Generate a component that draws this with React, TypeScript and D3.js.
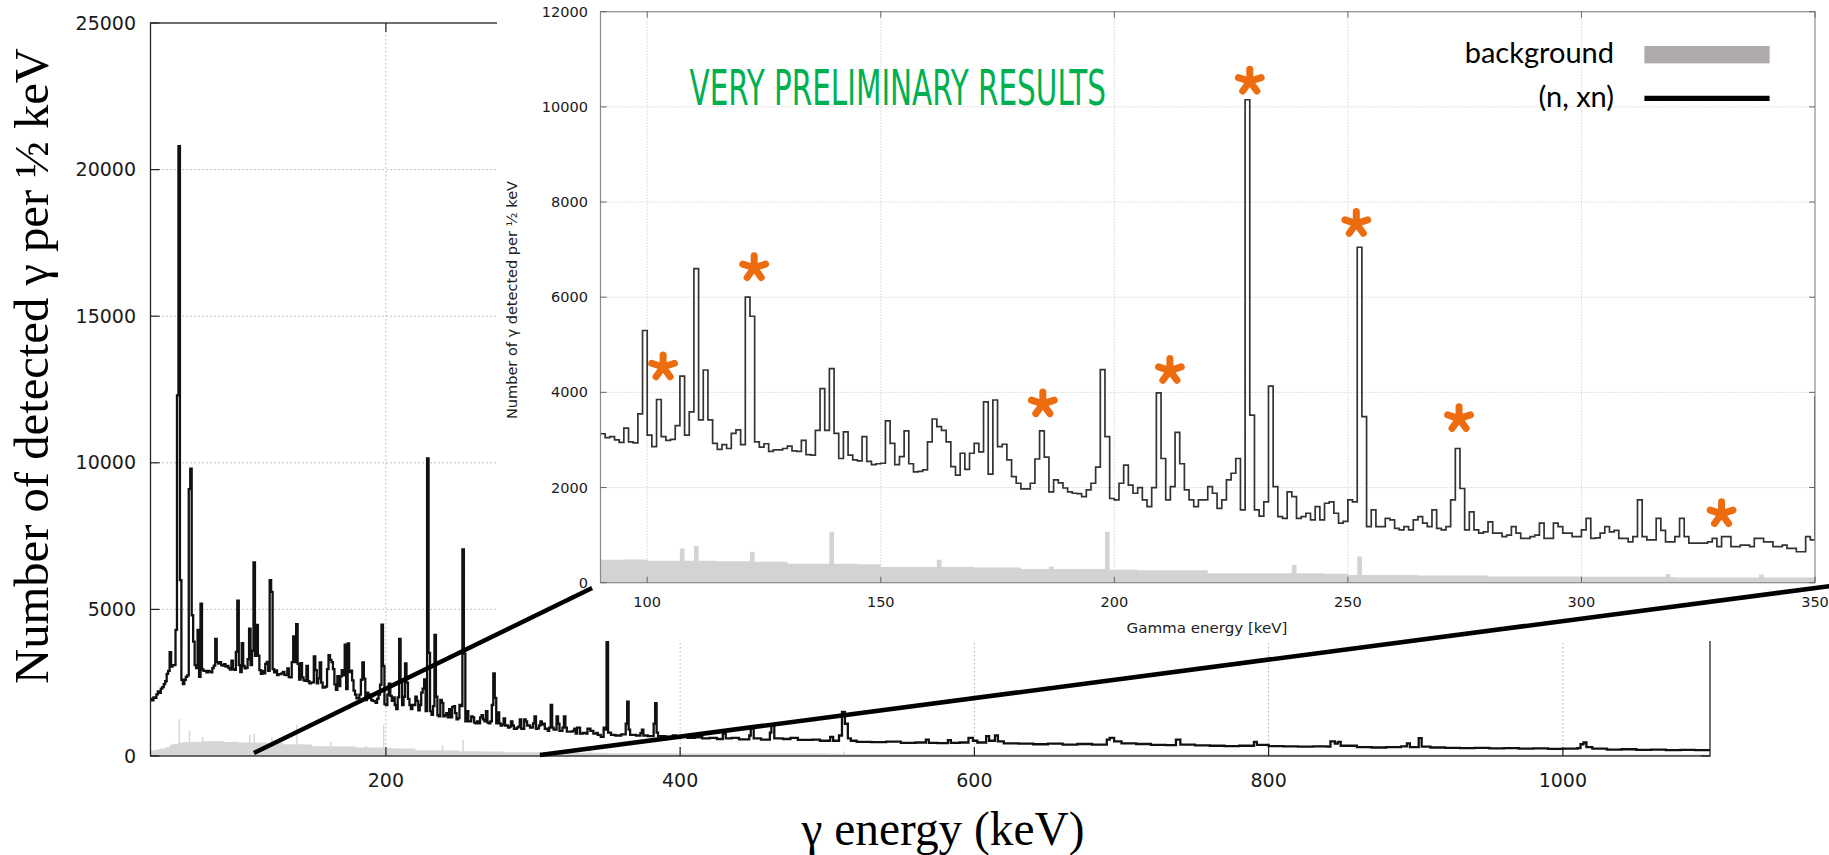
import React from 'react';
import * as d3 from 'd3';

// ---------- DATA ----------
// (n, xn) spectrum, counts per bin, 1 keV bins starting at LOW_START
const LOW_START = 40;
const LOW_COUNTS = [
  1950, 1900, 2000, 1980, 2100, 2200, 2150, 2300, 2350, 2450,
  2550, 2800, 2900, 3540, 3050, 3100, 3100, 4300, 12300, 20800,
  6000, 2600, 2450, 2600, 2700, 2750, 9100, 9800, 4800, 3900,
  3100, 3000, 4300, 2700, 5200, 2950, 2900, 2900, 2850, 2900,
  2880, 2850, 3000, 3080, 3990, 3200, 3150, 3200, 3100, 3080,
];

// 90 .. 350 keV, 1 keV bins (the zoomed inset region)
const INSET_START = 90;
const INSET_COUNTS = [
  3130, 3050, 3070, 3000, 2950, 3250, 2960, 2940, 3550, 5300, // 90-99
  3100, 2860, 3850, 3070, 2990, 3010, 3300, 4340, 3100, 3590, // 100-109
  6600, 3420, 4470, 3420, 2930, 2800, 2900, 2820, 3140, 3210, // 110-119
  2900, 6000, 5600, 2960, 2850, 2920, 2760, 2790, 2790, 2820, // 120-129
  2870, 2770, 2760, 2990, 2690, 2680, 3200, 4080, 3200, 4500, // 130-139
  3140, 2610, 3170, 2680, 2580, 2560, 3070, 2550, 2480, 2500, // 140-149
  2510, 3400, 2930, 2480, 2650, 3190, 2500, 2330, 2340, 2370, // 150-159
  2960, 3440, 3280, 3200, 2960, 2440, 2260, 2720, 2380, 2720, // 160-169
  2930, 2750, 3800, 2280, 3840, 2860, 2910, 2580, 2230, 2090, // 170-179
  1970, 1970, 2090, 2600, 3190, 2640, 1910, 2160, 2100, 1990, // 180-189
  1910, 1880, 1870, 1810, 1950, 2090, 2430, 4480, 3070, 1770, // 190-199
  1740, 2090, 2470, 2050, 1880, 2000, 1740, 1600, 2000, 3990, // 200-209
  2610, 1740, 2020, 3160, 2500, 1950, 1740, 1600, 1740, 1740, // 210-219
  2020, 1880, 1560, 1740, 2160, 2300, 2610, 1530, 10150, 3520, // 220-229
  1530, 1400, 1700, 4130, 2020, 1390, 1350, 1910, 1810, 1350, // 230-239
  1390, 1460, 1320, 1600, 1320, 1670, 1700, 1460, 1250, 1290, // 240-249
  1740, 1700, 7050, 3490, 1180, 1530, 1180, 1180, 1350, 1320, // 250-259
  1140, 1110, 1180, 1110, 1320, 1390, 1250, 1180, 1530, 1140, // 260-269
  1110, 1180, 1740, 2820, 1980, 1110, 1490, 1110, 1040, 1070, // 270-279
  1280, 1040, 1040, 970, 1000, 1180, 1040, 930, 930, 970,     // 280-289
  1000, 1250, 930, 930, 1250, 1180, 1040, 1040, 970, 970,     // 290-299
  1110, 1350, 930, 940, 1040, 1180, 1070, 1100, 930, 930,     // 300-309
  860, 970, 1740, 970, 900, 900, 1350, 1100, 860, 860,        // 310-319
  970, 1350, 970, 830, 830, 830, 830, 860, 930, 760,          // 320-329
  970, 970, 760, 760, 790, 790, 760, 930, 930, 860,           // 330-339
  860, 760, 760, 790, 720, 720, 650, 650, 970, 900,           // 340-349
  3900,                                                        // 350
];

// above 351 keV: [bin start keV, counts] change points
const HIGH_STEPS: [number, number][] = [
  [351, 800], [353, 720], [356, 700], [360, 740], [363, 1100], [364, 1850], [365, 900], [366, 720],
  [370, 700], [373, 780], [374, 900], [375, 700], [378, 680], [382, 1100], [383, 1800], [384, 800],
  [385, 680], [390, 660], [395, 700], [397, 640], [400, 660], [405, 620], [410, 640], [415, 600],
  [420, 620], [425, 580], [429, 760], [431, 600], [435, 620], [440, 570], [447, 700], [448, 940],
  [450, 600], [455, 560], [461, 800], [462, 1050], [464, 600], [470, 580], [475, 620], [480, 550],
  [490, 560], [495, 520], [502, 650], [504, 520], [508, 700], [510, 1500], [512, 1100], [514, 600],
  [516, 520], [520, 480], [530, 470], [540, 490], [550, 450], [560, 460], [567, 560], [569, 450],
  [575, 440], [582, 540], [584, 450], [590, 460], [596, 620], [599, 520], [602, 460], [608, 680],
  [610, 520], [614, 700], [616, 500], [620, 430], [630, 420], [640, 400], [650, 420], [660, 390],
  [670, 410], [680, 390], [690, 560], [692, 620], [695, 500], [700, 430], [710, 410], [720, 380],
  [730, 370], [737, 560], [740, 390], [750, 360], [760, 350], [770, 340], [780, 350], [790, 480],
  [792, 380], [800, 340], [810, 330], [820, 320], [830, 330], [840, 320], [842, 500], [845, 420],
  [847, 480], [849, 350], [860, 300], [870, 290], [880, 300], [890, 330], [894, 430], [896, 300],
  [902, 610], [904, 320], [910, 290], [920, 280], [930, 270], [940, 280], [950, 260], [960, 270],
  [970, 250], [980, 260], [990, 240], [1000, 250], [1010, 270], [1012, 400], [1014, 460], [1016, 300],
  [1020, 250], [1030, 220], [1040, 230], [1050, 210], [1060, 220], [1070, 200], [1080, 210], [1090, 200],
  [1100, 200],
];

// background spectrum: [bin start keV, counts] change points
const BG_STEPS: [number, number][] = [
  [40, 200], [44, 230], [47, 260], [50, 300], [53, 380], [55, 420], [59, 1250], [60, 450], [62, 470],
  [66, 850], [67, 480], [70, 490], [75, 650], [76, 500], [80, 510], [85, 500], [90, 480], [95, 490],
  [100, 460], [107, 720], [108, 460], [110, 770], [111, 460], [115, 450], [122, 650], [123, 440],
  [130, 400], [139, 1070], [140, 400], [145, 390], [150, 330], [162, 480], [163, 330], [170, 320],
  [180, 290], [186, 340], [187, 290], [198, 1070], [199, 270], [205, 260], [220, 200], [238, 370],
  [239, 200], [245, 190], [250, 160], [252, 550], [253, 160], [265, 150], [280, 130], [300, 125],
  [318, 185], [319, 120], [320, 110], [338, 170], [339, 110], [350, 95], [400, 85], [500, 75],
  [511, 150], [512, 70], [600, 60], [800, 50], [1100, 40],
];

// marked peaks in the inset: [keV, counts] of the asterisk centres
const MARKERS: [number, number][] = [
  [103.4, 4575], [122.9, 6660], [184.7, 3800], [211.9, 4500],
  [229.0, 10580], [251.8, 7590], [273.8, 3490], [330.0, 1490],
];

// zoom connector lines: main chart point -> inset point
const LINKS = [
  { mainKeV: 110.3, mainCounts: 100, insetKeV: 88.2, insetCounts: -110 },
  { mainKeV: 304.7, mainCounts: 35, insetKeV: 353.3, insetCounts: -70 },
];

const MAIN_X_TICKS = [200, 400, 600, 800, 1000];
const MAIN_Y_TICKS = [0, 5000, 10000, 15000, 20000, 25000];
const INSET_X_TICKS = [100, 150, 200, 250, 300, 350];
const INSET_Y_TICKS = [0, 2000, 4000, 6000, 8000, 10000, 12000];

const LEGEND = [
  { label: 'background', kind: 'area' },
  { label: '(n, xn)', kind: 'line' },
];

const TITLE_TEXT = 'VERY PRELIMINARY RESULTS';

// ---------- STYLE ----------
const ORANGE = '#EE6C10';
const GREEN = '#00B050';
const SANS = "'DejaVu Sans', sans-serif";
const SERIF = "'Liberation Serif', 'Times New Roman', serif";

function asteriskPath(r: number) {
  let p = '';
  for (let i = 0; i < 5; i++) {
    const a = ((-90 + i * 72) * Math.PI) / 180;
    p += `M0,0L${(r * Math.cos(a)).toFixed(2)},${(r * Math.sin(a)).toFixed(2)}`;
  }
  return p;
}

export default function App() {
  const W = 1829;
  const H = 855;

  // main chart scales
  const mx = d3.scaleLinear().domain([40, 1100]).range([150.5, 1710]);
  const my = d3.scaleLinear().domain([0, 25000]).range([756, 23]);
  // inset scales
  const ix = d3.scaleLinear().domain([90, 350]).range([600.5, 1815]);
  const iy = d3.scaleLinear().domain([0, 12000]).range([582.7, 11.7]);

  const panel = { x: 497, y: 0, w: W - 497, h: 641 };

  const lowPts: [number, number][] = LOW_COUNTS.map((v, i) => [LOW_START + i, v]);
  const insetPts: [number, number][] = INSET_COUNTS.map((v, i) => [INSET_START + i, v]);
  const mainPts: [number, number][] = [...lowPts, ...insetPts, ...HIGH_STEPS];
  const insetLinePts: [number, number][] = [...insetPts, [INSET_START + INSET_COUNTS.length, INSET_COUNTS[INSET_COUNTS.length - 1]]];

  const mainLine = d3.line<[number, number]>().x(d => mx(d[0])).y(d => my(d[1])).curve(d3.curveStepAfter);
  const mainArea = d3.area<[number, number]>().x(d => mx(d[0])).y0(my(0)).y1(d => my(d[1])).curve(d3.curveStepAfter);
  const insetLine = d3.line<[number, number]>().x(d => ix(d[0])).y(d => iy(d[1])).curve(d3.curveStepAfter);
  const insetArea = d3.area<[number, number]>().x(d => ix(d[0])).y0(iy(0)).y1(d => iy(d[1])).curve(d3.curveStepAfter);

  const [mx0, mx1] = mx.range();
  const [myB, myT] = my.range();
  const [ix0, ix1] = ix.range();
  const [iyB, iyT] = iy.range();

  const legendX0 = 1644.4, legendX1 = 1769.6;
  const legendTextX = 1614;
  const legendRows = [54.7, 98.3];

  const astR = 12;

  return (
    <svg width={W} height={H} style={{ position: 'absolute', left: 0, top: 0, background: '#fff' }}>
      <defs>
        <clipPath id="mainClip">
          <rect x={mx0} y={myT} width={mx1 - mx0} height={myB - myT} />
        </clipPath>
        <clipPath id="insetClip">
          <rect x={ix0} y={iyT} width={ix1 - ix0} height={iyB - iyT} />
        </clipPath>
      </defs>

      {/* ===== MAIN CHART ===== */}
      <g>
        {MAIN_Y_TICKS.filter(t => t > 0 && t < 25000).map(t => (
          <line key={'mgy' + t} x1={mx0} x2={mx1} y1={my(t)} y2={my(t)} stroke="#b0b0b0" strokeWidth={1} strokeDasharray="1.5,2.5" />
        ))}
        {MAIN_X_TICKS.map(t => (
          <line key={'mgx' + t} x1={mx(t)} x2={mx(t)} y1={myT} y2={myB} stroke="#b0b0b0" strokeWidth={1} strokeDasharray="1.5,2.5" />
        ))}
        <path d={mainArea(BG_STEPS) || ''} fill="#d6d6d6" clipPath="url(#mainClip)" />
        <path d={mainLine(mainPts) || ''} fill="none" stroke="#111" strokeWidth={2.3} strokeLinejoin="miter" clipPath="url(#mainClip)" />
        {/* frame */}
        <rect x={mx0} y={myT} width={mx1 - mx0} height={myB - myT} fill="none" stroke="#222" strokeWidth={1.3} />
        {MAIN_Y_TICKS.map(t => (
          <g key={'myt' + t}>
            <line x1={mx0} x2={mx0 + 9} y1={my(t)} y2={my(t)} stroke="#222" strokeWidth={1.2} />
            <line x1={mx1} x2={mx1 - 9} y1={my(t)} y2={my(t)} stroke="#222" strokeWidth={1.2} />
            <text x={136} y={my(t)} dy="0.35em" textAnchor="end" fontFamily={SANS} fontSize={19} fill="#1a1a1a">{t}</text>
          </g>
        ))}
        {MAIN_X_TICKS.map(t => (
          <g key={'mxt' + t}>
            <line x1={mx(t)} x2={mx(t)} y1={myB} y2={myB - 9} stroke="#222" strokeWidth={1.2} />
            <line x1={mx(t)} x2={mx(t)} y1={myT} y2={myT + 9} stroke="#222" strokeWidth={1.2} />
            <text x={mx(t)} y={787} textAnchor="middle" fontFamily={SANS} fontSize={19} fill="#1a1a1a">{t}</text>
          </g>
        ))}
        <text x={943} y={845} textAnchor="middle" fontFamily={SERIF} fontSize={48} fill="#000" textLength={283} lengthAdjust="spacingAndGlyphs">γ energy (keV)</text>
        <text transform={`translate(48,366) rotate(-90)`} textAnchor="middle" fontFamily={SERIF} fontSize={49} fill="#000" textLength={636} lengthAdjust="spacingAndGlyphs">Number of detected γ per ½ keV</text>
      </g>

      {/* ===== INSET PANEL ===== */}
      <rect x={panel.x} y={panel.y} width={panel.w} height={panel.h} fill="#fff" />
      <g>
        {INSET_Y_TICKS.filter(t => t > 0 && t < 12000).map(t => (
          <line key={'igy' + t} x1={ix0} x2={ix1} y1={iy(t)} y2={iy(t)} stroke="#c4c4c4" strokeWidth={1} strokeDasharray="1,2" />
        ))}
        {INSET_X_TICKS.filter(t => t > 90 && t < 350).map(t => (
          <line key={'igx' + t} x1={ix(t)} x2={ix(t)} y1={iyT} y2={iyB} stroke="#c4c4c4" strokeWidth={1} strokeDasharray="1,2" />
        ))}
        <path d={insetArea(BG_STEPS) || ''} fill="#d3d3d3" clipPath="url(#insetClip)" />
        <path d={insetLine(insetLinePts) || ''} fill="none" stroke="#333" strokeWidth={1.7} clipPath="url(#insetClip)" />
        <rect x={ix0} y={iyT} width={ix1 - ix0} height={iyB - iyT} fill="none" stroke="#8a8a8a" strokeWidth={1.2} />
        {INSET_Y_TICKS.map(t => (
          <g key={'iyt' + t}>
            <line x1={ix0} x2={ix0 + 6} y1={iy(t)} y2={iy(t)} stroke="#666" strokeWidth={1} />
            <line x1={ix1} x2={ix1 - 6} y1={iy(t)} y2={iy(t)} stroke="#666" strokeWidth={1} />
            <text x={588} y={iy(t)} dy="0.35em" textAnchor="end" fontFamily={SANS} fontSize={14.5} fill="#1a1a1a">{t}</text>
          </g>
        ))}
        {INSET_X_TICKS.map(t => (
          <g key={'ixt' + t}>
            <line x1={ix(t)} x2={ix(t)} y1={iyB} y2={iyB - 6} stroke="#666" strokeWidth={1} />
            <line x1={ix(t)} x2={ix(t)} y1={iyT} y2={iyT + 6} stroke="#666" strokeWidth={1} />
            <text x={ix(t)} y={607} textAnchor="middle" fontFamily={SANS} fontSize={14.5} fill="#1a1a1a">{t}</text>
          </g>
        ))}
        <text x={1207} y={633} textAnchor="middle" fontFamily={SANS} fontSize={14.5} fill="#222" textLength={161} lengthAdjust="spacingAndGlyphs">Gamma energy [keV]</text>
        <text transform={`translate(517,300) rotate(-90)`} textAnchor="middle" fontFamily={SANS} fontSize={13.5} fill="#222" textLength={238} lengthAdjust="spacingAndGlyphs">Number of γ detected per ½ keV</text>

        {/* title */}
        <text x={689.5} y={105} fontFamily="'DejaVu Sans Condensed', 'DejaVu Sans', sans-serif" fontSize={50} fill={GREEN} textLength={416.5} lengthAdjust="spacingAndGlyphs">{TITLE_TEXT}</text>

        {/* legend */}
        {LEGEND.map((l, i) => (
          <g key={'lg' + i}>
            <text x={legendTextX} y={legendRows[i] + 8.5} textAnchor="end" fontFamily="Lato, 'Open Sans', sans-serif" fontSize={29} fill="#000">{l.label}</text>
            {l.kind === 'area' ? (
              <rect x={legendX0} y={legendRows[i] - 8.7} width={legendX1 - legendX0} height={17.4} fill="#AEAAAA" />
            ) : (
              <line x1={legendX0} x2={legendX1} y1={legendRows[i]} y2={legendRows[i]} stroke="#000" strokeWidth={5.3} />
            )}
          </g>
        ))}

        {/* peak markers */}
        {MARKERS.map((m, i) => (
          <path key={'ast' + i} d={asteriskPath(astR)} transform={`translate(${ix(m[0])},${iy(m[1]) + 2})`} stroke={ORANGE} strokeWidth={7} strokeLinecap="round" fill="none" />
        ))}
      </g>

      {/* zoom connector lines */}
      {LINKS.map((l, i) => (
        <line key={'lk' + i} x1={mx(l.mainKeV)} y1={my(l.mainCounts)} x2={ix(l.insetKeV)} y2={iy(l.insetCounts)} stroke="#000" strokeWidth={4.5} />
      ))}
    </svg>
  );
}
